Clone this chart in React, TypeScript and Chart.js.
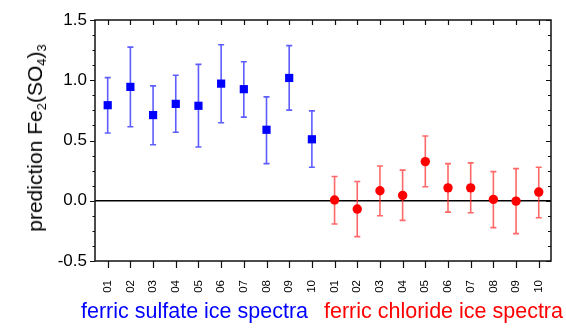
import React, { useEffect, useRef } from "react";
import { Chart, registerables } from "chart.js";

Chart.register(...registerables);

const tickLabels = ["01","02","03","04","05","06","07","08","09","10","01","02","03","04","05","06","07","08","09","10"];

const sulfateValues = [0.793, 0.945, 0.711, 0.804, 0.788, 0.972, 0.926, 0.589, 1.019, 0.510];
const sulfateUpper = [1.022, 1.275, 0.953, 1.041, 1.132, 1.295, 1.154, 0.862, 1.287, 0.746];
const sulfateLower = [0.562, 0.614, 0.465, 0.568, 0.446, 0.647, 0.694, 0.308, 0.752, 0.278];

const chlorideValues = [0.006, -0.069, 0.083, 0.044, 0.325, 0.107, 0.107, 0.011, -0.003, 0.072];
const chlorideUpper = [0.201, 0.160, 0.289, 0.254, 0.537, 0.308, 0.314, 0.242, 0.267, 0.278];
const chlorideLower = [-0.193, -0.298, -0.124, -0.163, 0.116, -0.094, -0.099, -0.223, -0.273, -0.141];

const yTicksMajor = [-0.5, 0, 0.5, 1.0, 1.5];
const yTicksMinor = [-0.375, -0.25, -0.125, 0.125, 0.25, 0.375, 0.625, 0.75, 0.875, 1.125, 1.25, 1.375];

const FONT = "'Liberation Sans', Arial, Helvetica, sans-serif";

const framePlugin = {
  id: "framePlugin",
  beforeDatasetsDraw(chart: any) {
    const { ctx, chartArea: a, scales } = chart;
    const x = scales.x, y = scales.y;
    ctx.save();
    ctx.strokeStyle = "#000";
    ctx.lineWidth = 1.5;
    const y0 = y.getPixelForValue(0);
    ctx.beginPath();
    ctx.moveTo(a.left, y0);
    ctx.lineTo(a.right, y0);
    ctx.stroke();
    const drawBars = (offset: number, vals: number[], up: number[], lo: number[], color: string) => {
      ctx.strokeStyle = color;
      ctx.lineWidth = 1.6;
      vals.forEach((_, i) => {
        const px = x.getPixelForValue(i + offset);
        const pt = y.getPixelForValue(up[i]);
        const pb = y.getPixelForValue(lo[i]);
        ctx.beginPath();
        ctx.moveTo(px, pt);
        ctx.lineTo(px, pb);
        ctx.moveTo(px - 3, pt);
        ctx.lineTo(px + 3, pt);
        ctx.moveTo(px - 3, pb);
        ctx.lineTo(px + 3, pb);
        ctx.stroke();
      });
    };
    drawBars(0, sulfateValues, sulfateUpper, sulfateLower, "rgba(40,40,255,0.75)");
    drawBars(10, chlorideValues, chlorideUpper, chlorideLower, "rgba(255,40,40,0.7)");
    ctx.restore();
  },
  afterDraw(chart: any) {
    const { ctx, chartArea: a, scales } = chart;
    const x = scales.x, y = scales.y;
    ctx.save();
    ctx.strokeStyle = "#111";
    ctx.lineWidth = 1.5;
    ctx.strokeRect(a.left, a.top, a.right - a.left, a.bottom - a.top);
    ctx.lineWidth = 1.2;
    ctx.beginPath();
    tickLabels.forEach((_, i) => {
      const px = Math.round(x.getPixelForValue(i)) + 0.5;
      ctx.moveTo(px, a.bottom);
      ctx.lineTo(px, a.bottom + 7);
      ctx.moveTo(px, a.top);
      ctx.lineTo(px, a.top + 5);
    });
    yTicksMajor.forEach((v) => {
      const py = Math.round(y.getPixelForValue(v)) + 0.5;
      ctx.moveTo(a.left - 5, py);
      ctx.lineTo(a.left, py);
      ctx.moveTo(a.right, py);
      ctx.lineTo(a.right - 5, py);
    });
    yTicksMinor.forEach((v) => {
      const py = Math.round(y.getPixelForValue(v)) + 0.5;
      ctx.moveTo(a.left - 2.5, py);
      ctx.lineTo(a.left, py);
      ctx.moveTo(a.right, py);
      ctx.lineTo(a.right - 3, py);
    });
    ctx.stroke();
    ctx.restore();
  },
};

export default function App() {
  const ref = useRef<HTMLCanvasElement | null>(null);
  useEffect(() => {
    if (!ref.current) return;
    const chart = new Chart(ref.current, {
      type: "scatter",
      data: {
        datasets: [
          {
            label: "ferric sulfate ice spectra",
            data: sulfateValues.map((v, i) => ({ x: i, y: v })),
            pointStyle: "rect",
            pointRadius: 5.8,
            backgroundColor: "#0000ff",
            borderColor: "#0000ff",
            borderWidth: 0,
          },
          {
            label: "ferric chloride ice spectra",
            data: chlorideValues.map((v, i) => ({ x: i + 10, y: v })),
            pointStyle: "circle",
            pointRadius: 4.7,
            backgroundColor: "#ff0000",
            borderColor: "#ff0000",
            borderWidth: 0,
          },
        ],
      },
      options: {
        animation: false,
        responsive: false,
        layout: { padding: { top: 20, right: 15, left: 0, bottom: 0 } },
        plugins: { legend: { display: false }, tooltip: { enabled: false } },
        scales: {
          x: {
            type: "linear",
            min: -0.56,
            max: 19.54,
            afterBuildTicks: (s: any) => {
              s.ticks = tickLabels.map((_, i) => ({ value: i }));
            },
            afterFit: (s: any) => {
              s.height = 68;
            },
            ticks: {
              autoSkip: false,
              minRotation: 90,
              maxRotation: 90,
              padding: 13,
              color: "#000",
              font: { family: FONT, size: 11.5 },
              callback: (v: any) => tickLabels[v as number],
            },
            grid: { color: "transparent", drawTicks: true, tickLength: 6 },
            border: { display: false },
          },
          y: {
            min: -0.5,
            max: 1.5,
            afterBuildTicks: (s: any) => {
              s.ticks = yTicksMajor.map((v) => ({ value: v }));
            },
            afterFit: (s: any) => {
              s.width = 95;
            },
            ticks: {
              padding: 3,
              color: "#000",
              font: { family: FONT, size: 17 },
              callback: (v: any) => Number(v).toFixed(1),
            },
            grid: { color: "transparent", drawTicks: true, tickLength: 5 },
            border: { display: false },
          },
        },
      },
      plugins: [framePlugin],
    } as any);
    return () => chart.destroy();
  }, []);

  const subStyle: React.CSSProperties = { fontSize: "0.62em", verticalAlign: "-0.3em", lineHeight: 0 };
  return (
    <div style={{ position: "absolute", left: 0, top: 0, width: 566, height: 329, background: "#fff", fontFamily: FONT }}>
      <canvas ref={ref} width={566} height={329} style={{ position: "absolute", left: 0, top: 0 }} />
      <div
        style={{
          position: "absolute",
          left: 35,
          top: 138,
          transform: "translate(-50%, -50%) rotate(-90deg)",
          whiteSpace: "nowrap",
          fontSize: 21,
          lineHeight: "24px",
          color: "#000",
        }}
      >
        prediction Fe<span style={subStyle}>2</span>(SO<span style={subStyle}>4</span>)<span style={subStyle}>3</span>
      </div>
      <div style={{ position: "absolute", left: 81, top: 300, fontSize: 21.5, lineHeight: "22px", color: "#0000ff", whiteSpace: "nowrap" }}>
        ferric sulfate ice spectra
      </div>
      <div style={{ position: "absolute", left: 324, top: 300, fontSize: 21.5, lineHeight: "22px", color: "#ff0000", whiteSpace: "nowrap" }}>
        ferric chloride ice spectra
      </div>
    </div>
  );
}
